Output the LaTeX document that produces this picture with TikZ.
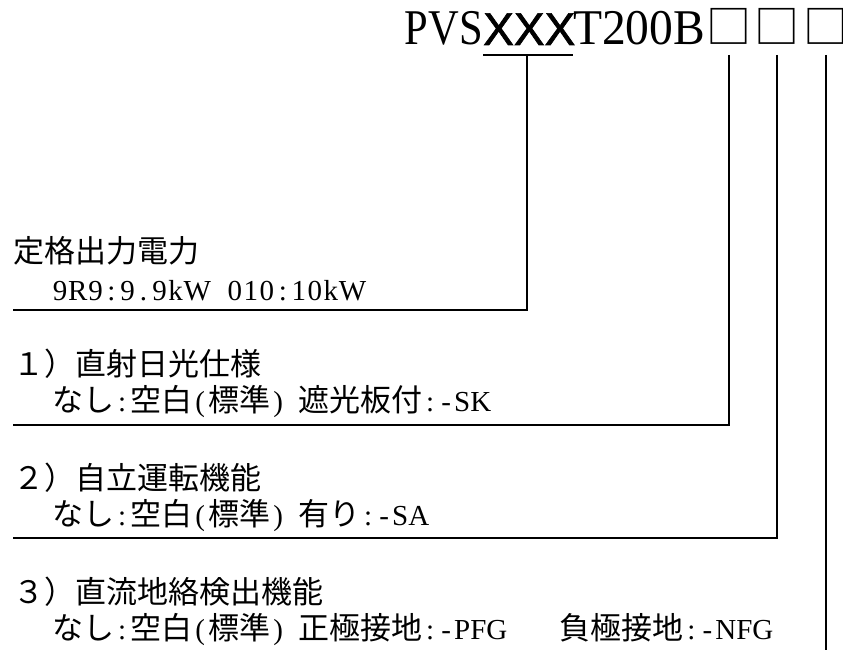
\documentclass[tikz,border=0pt]{standalone}
\usepackage{fontspec}
\setmainfont{Liberation Serif}
\newfontfamily\jp{Noto Sans CJK JP}
\newfontfamily\lat{Liberation Serif}
\newfontfamily\latA[FakeStretch=0.85]{Liberation Serif}
\newfontfamily\latB[FakeStretch=0.95]{Liberation Serif}
\newfontfamily\latsans[FakeBold=1.5]{Liberation Sans}
\newdimen\hwwd \hwwd=16pt
\newcommand\hwcell[1]{\setbox0\hbox{#1}\ifdim\wd0<\hwwd\hbox to\hwwd{\hss\box0\hss}\else\box0\fi}
\def\hwloop#1{\ifx#1\relax\else\hwcell{#1}\expandafter\hwloop\fi}
\newcommand\hw[1]{{\lat\fontsize{29}{29}\selectfont\hwloop#1\relax}}
\begin{document}
\begin{tikzpicture}[x=1pt,y=-1pt,
  txt/.style={inner sep=0pt,anchor=base west,font=\fontsize{31}{31}\selectfont},
  ttl/.style={inner sep=0pt,font=\fontsize{50}{50}\selectfont},
  box/.style={inner sep=0pt,anchor=base,font=\fontsize{45}{45}\selectfont},
  conn/.style={line width=1.7pt,black}]
\useasboundingbox (0,0) rectangle (843,650);
% title
\node[ttl,anchor=base east] (pvs) at (483,45) {\latA PVS};
\node[ttl,anchor=base west,font=\fontsize{46}{46}\selectfont] (xxx) at (483,45) {\latsans XXX};
\node[ttl,anchor=base west] (tb) at (573,45) {\latB T200B};
\node[box] (b1) at (729,44) {\jp □};
\node[box] (b2) at (777,44) {\jp □};
\node[box] (b3) at (826,44) {\jp □};
\coordinate (u1) at (483,55);
\coordinate (u2) at (573,55);
\coordinate (uc) at (527,55);
\coordinate (v1) at (729,55);
\coordinate (v2) at (777,55);
\coordinate (v3) at (826,55);
% sections
\node[txt] (s0a) at (13,262) {\jp 定格出力電力};
\node[txt] (s0b) at (52,300) {\hw{9R9:9.9kW}\hspace{16pt}\hw{010:10kW}};
\node[txt] (s1a) at (13,375) {\jp １）直射日光仕様};
\node[txt] (s1b) at (52,411) {{\jp なし}\hw{:}{\jp 空白}\hw{(}{\jp 標準}\hw{)}\hspace{12pt}{\jp 遮光板付}\hw{:-SK}};
\node[txt] (s2a) at (13,489) {\jp ２）自立運転機能};
\node[txt] (s2b) at (52,525) {{\jp なし}\hw{:}{\jp 空白}\hw{(}{\jp 標準}\hw{)}\hspace{12pt}{\jp 有り}\hw{:-SA}};
\node[txt] (s3a) at (13,603) {\jp ３）直流地絡検出機能};
\node[txt] (s3b) at (52,639) {{\jp なし}\hw{:}{\jp 空白}\hw{(}{\jp 標準}\hw{)}\hspace{12pt}{\jp 正極接地}\hw{:-PFG}\hspace{52pt}{\jp 負極接地}\hw{:-NFG}};
\coordinate (e0) at (13,310);
\coordinate (e1) at (13,425);
\coordinate (e2) at (13,538);
\coordinate (e3) at (826,650);
% connectors
\draw[conn] (u1) -- (u2);
\draw[conn] (uc) |- (e0);
\draw[conn] (v1) |- (e1);
\draw[conn] (v2) |- (e2);
\draw[conn] (v3) -- (e3);
\end{tikzpicture}
\end{document}
